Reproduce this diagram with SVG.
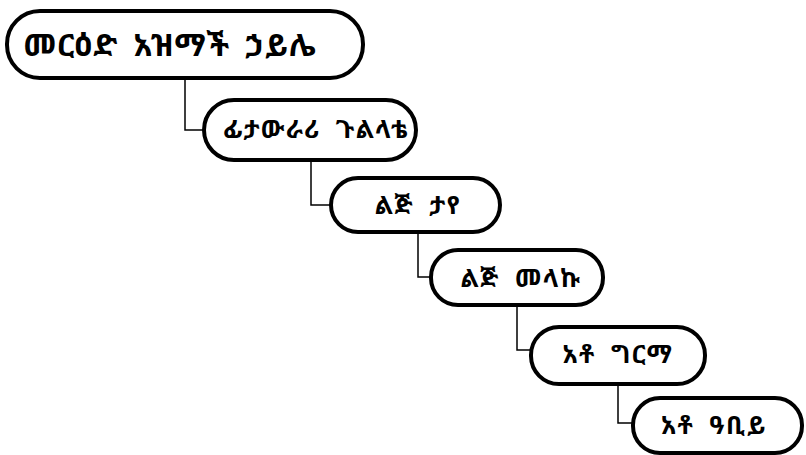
<svg xmlns="http://www.w3.org/2000/svg" width="806" height="455" viewBox="0 0 806 455">
<style>
.pill{fill:#fff;stroke:#000;stroke-width:4}
.t{font-family:"Noto Sans Ethiopic","Noto Sans","DejaVu Sans",sans-serif;font-weight:bold;fill:#000;text-anchor:middle;font-size:25px;letter-spacing:1.5px;word-spacing:7px}
.c{fill:none;stroke:#000;stroke-width:1.5}
</style>
<rect width="806" height="455" fill="#fff"/>
<g id="connectors">
<path class="c" d="M185 78 V130 H204"/>
<path class="c" d="M311 160 V205 H331"/>
<path class="c" d="M418 232 V277 H431"/>
<path class="c" d="M517 305 V350 H531"/>
<path class="c" d="M618 384 V423 H633"/>
</g>
<g id="n1"><rect class="pill" x="7" y="11" width="356" height="67" rx="33"/><text class="t" x="170" y="56" style="font-size:31px;letter-spacing:1px;word-spacing:6px">መርዕድ አዝማች ኃይሌ</text></g>
<g id="n2"><rect class="pill" x="204" y="100" width="212" height="60" rx="30"/><text class="t" x="316" y="138">ፊታውራሪ ጉልላቴ</text></g>
<g id="n3"><rect class="pill" x="331" y="178" width="169" height="54" rx="27"/><text class="t" x="418" y="214">ልጅ ታየ</text></g>
<g id="n4"><rect class="pill" x="431" y="250" width="172" height="55" rx="27"/><text class="t" x="521" y="287">ልጅ መላኩ</text></g>
<g id="n5"><rect class="pill" x="531" y="327" width="174" height="57" rx="28"/><text class="t" x="618" y="363">አቶ ግርማ</text></g>
<g id="n6"><rect class="pill" x="633" y="398" width="169" height="55" rx="27"/><text class="t" x="714" y="434">አቶ ዓቢይ</text></g>
</svg>
